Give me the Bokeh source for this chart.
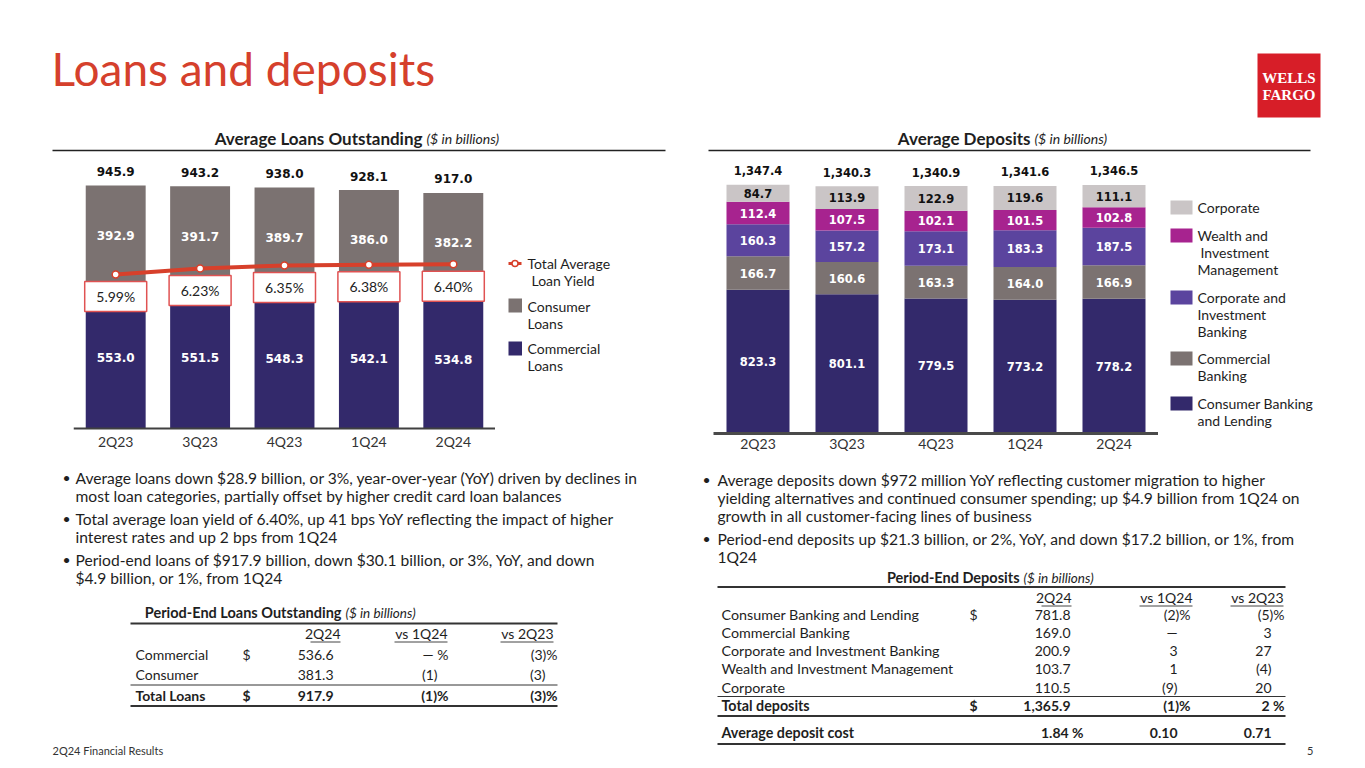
from bokeh.plotting import figure
from bokeh.models import Range1d, FactorRange, ColumnDataSource, Span
from bokeh.layouts import row, column
from bokeh.core.properties import value
from bokeh.transform import dodge
from bokeh.embed import file_html
from bokeh.resources import INLINE

# ---------------- data ----------------
quarters = ["2Q23", "3Q23", "4Q23", "1Q24", "2Q24"]

commercial_loans = [553.0, 551.5, 548.3, 542.1, 534.8]
consumer_loans = [392.9, 391.7, 389.7, 386.0, 382.2]
total_loans = [945.9, 943.2, 938.0, 928.1, 917.0]
loan_yield = [5.99, 6.23, 6.35, 6.38, 6.40]

dep_cbl = [823.3, 801.1, 779.5, 773.2, 778.2]
dep_cb = [166.7, 160.6, 163.3, 164.0, 166.9]
dep_cib = [160.3, 157.2, 173.1, 183.3, 187.5]
dep_wim = [112.4, 107.5, 102.1, 101.5, 102.8]
dep_corp = [84.7, 113.9, 122.9, 119.6, 111.1]
dep_total = [1347.4, 1340.3, 1340.9, 1341.6, 1346.5]

loan_tbl_rows = ["Commercial", "Consumer", "Total Loans"]
loan_tbl_2q24 = ["536.6", "381.3", "917.9"]
loan_tbl_vs1q24 = ["\u2014 %", "(1)", "(1)%"]
loan_tbl_vs2q23 = ["(3)%", "(3)", "(3)%"]

dep_tbl_rows = ["Consumer Banking and Lending", "Commercial Banking",
                "Corporate and Investment Banking", "Wealth and Investment Management",
                "Corporate", "Total deposits", "Average deposit cost"]
dep_tbl_2q24 = ["781.8", "169.0", "200.9", "103.7", "110.5", "1,365.9", "1.84 %"]
dep_tbl_vs1q24 = ["(2)%", "\u2014", "3", "1", "(9)", "(1)%", "0.10"]
dep_tbl_vs2q23 = ["(5)%", "3", "27", "(4)", "20", "2 %", "0.71"]

left_bullets = [
    ["Average loans down $28.9 billion, or 3%, year-over-year (YoY) driven by declines in",
     "most loan categories, partially offset by higher credit card loan balances"],
    ["Total average loan yield of 6.40%, up 41 bps YoY reflecting the impact of higher",
     "interest rates and up 2 bps from 1Q24"],
    ["Period-end loans of $917.9 billion, down $30.1 billion, or 3%, YoY, and down",
     "$4.9 billion, or 1%, from 1Q24"],
]
right_bullets = [
    ["Average deposits down $972 million YoY reflecting customer migration to higher",
     "yielding alternatives and continued consumer spending; up $4.9 billion from 1Q24 on",
     "growth in all customer-facing lines of business"],
    ["Period-end deposits up $21.3 billion, or 2%, YoY, and down $17.2 billion, or 1%, from",
     "1Q24"],
]

# ---------------- styles ----------------
NAVY = "#33296b"
GRAY = "#7b7271"
PURPLE = "#5b449e"
MAGENTA = "#a7238f"
LIGHT = "#cac5c6"
RED = "#d7402b"
BOXRED = "#e05252"
TXT = "#1e1e1e"
FONT = "Lato"
NUMFONT = "DejaVu Sans"

MID_TOP, MID_BOT, MID_H = 153, 433, 310     # chart frames span y 153..433 of the page


def canvas(w, h, x0, x1, y0, y1):
    p = figure(width=w, height=h, x_range=Range1d(x0, x1), y_range=Range1d(y1, y0),
               output_backend="svg", toolbar_location=None, min_border=0,
               x_axis_location=None, y_axis_location=None)
    p.grid.visible = False
    p.xgrid.visible = False
    p.ygrid.visible = False
    p.outline_line_color = None
    p.background_fill_color = "white"
    p.border_fill_color = "white"
    return p


def txt(p, x, y, s, size=14, style="normal", align="left", color=TXT, font=FONT):
    p.text(x=[x], y=[y], text=[s], text_font=value(font), text_font_size=f"{size}px",
           text_font_style=style, text_align=align, text_baseline="middle", text_color=color)


def hline(p, x0, x1, y, w=1.0, color="#333333"):
    p.segment(x0=[x0], x1=[x1], y0=[y], y1=[y], line_width=w, line_color=color)


# ---------------- header ----------------
hdr = canvas(1349, 153, 0, 1349, 0, 153)
txt(hdr, 51, 68, "Loans and deposits", size=46, color="#d5402c")
hdr.quad(left=[1257], right=[1320], top=[53], bottom=[117], fill_color="#d71e28", line_color=None)
txt(hdr, 1288.5, 77, "WELLS", size=15, style="bold", align="center", color="white", font="Liberation Serif")
txt(hdr, 1288.5, 94, "FARGO", size=15, style="bold", align="center", color="white", font="Liberation Serif")
txt(hdr, 422, 138, "Average Loans Outstanding", size=17, style="bold", align="right")
txt(hdr, 426, 138, "($ in billions)", size=14, style="italic", align="left")
hline(hdr, 52, 665, 150, 1.5, "#222222")
txt(hdr, 1030, 138, "Average Deposits", size=17, style="bold", align="right")
txt(hdr, 1034, 138, "($ in billions)", size=14, style="italic", align="left")
hline(hdr, 708, 1310, 150, 1.5, "#222222")

# ---------------- loans chart ----------------
lsrc = ColumnDataSource(dict(
    q=quarters, commercial=commercial_loans, consumer=consumer_loans, total=total_loans,
    yld=loan_yield,
    ylbl=[f"{v:.2f}%" for v in loan_yield],
    tlbl=[f"{v:.1f}" for v in total_loans],
    clbl=[f"{v:.1f}" for v in commercial_loans],
    slbl=[f"{v:.1f}" for v in consumer_loans],
    cmid=[c / 2 for c in commercial_loans],
    smid=[c + s / 2 for c, s in zip(commercial_loans, consumer_loans)],
))

LK = 3.8926           # $bn per pixel
YK = 1 / 25.1         # % per pixel
lp = figure(width=495, height=MID_H, x_range=FactorRange(factors=quarters, range_padding=0),
            y_range=Range1d(-5 * LK, 275 * LK), output_backend="svg", toolbar_location=None,
            min_border=0, min_border_left=73, min_border_bottom=MID_H - (MID_BOT - MID_TOP),
            y_axis_location=None)
lp.extra_y_ranges = {"yield": Range1d(5.99 - 159 * YK, 5.99 + 121 * YK)}
lp.outline_line_color = None
lp.grid.visible = False
lp.xaxis.axis_line_color = None
lp.xaxis.major_tick_line_color = None
lp.xaxis.major_label_text_font = FONT
lp.xaxis.major_label_text_font_size = "14px"
lp.xaxis.major_label_text_color = "#333333"
lp.xaxis.major_label_standoff = -7
lp.add_layout(Span(location=0, dimension="width", line_color="#404040", line_width=2))

lp.vbar_stack(["commercial", "consumer"], x="q", width=0.71, color=[NAVY, GRAY],
              line_color=None, source=lsrc)
lp.text(x="q", y="total", text="tlbl", source=lsrc, y_offset=-14, text_align="center",
        text_baseline="middle", text_font=value(NUMFONT), text_font_style="bold",
        text_font_size="12px", text_color="#111111")
lp.text(x="q", y="smid", text="slbl", source=lsrc, text_align="center", text_baseline="middle",
        text_font=value(NUMFONT), text_font_style="bold", text_font_size="12px", text_color="white")
lp.text(x="q", y="cmid", text="clbl", source=lsrc, text_align="center", text_baseline="middle",
        text_font=value(NUMFONT), text_font_style="bold", text_font_size="12px", text_color="white")
lp.line(x="q", y="yld", source=lsrc, y_range_name="yield", line_color=RED, line_width=4)
lp.scatter(x="q", y="yld", source=lsrc, y_range_name="yield", size=7, fill_color="white",
           line_color=RED, line_width=1.5)
boxy = dodge("yld", -22 * YK)
lp.rect(x="q", y=boxy, width=62, height=30, width_units="screen", height_units="screen",
        source=lsrc, y_range_name="yield", fill_color="white", line_color=BOXRED, line_width=1.5)
lp.text(x="q", y=boxy, text="ylbl", source=lsrc, y_range_name="yield", text_align="center",
        text_baseline="middle", text_font=value(FONT), text_font_size="14px", text_color="#222222")

# loans legend (frame aligned with chart frames: y 153..433)
ll = canvas(191, MID_H, 495, 686, MID_TOP, MID_BOT)
ll.min_border_bottom = MID_H - (MID_BOT - MID_TOP)
ll.segment(x0=[508], x1=[521], y0=[263], y1=[263], line_color=RED, line_width=3)
ll.scatter(x=[514.5], y=[263], size=6, fill_color="white", line_color=RED, line_width=1.5)
txt(ll, 527, 263, "Total Average")
txt(ll, 531, 280, "Loan Yield")
ll.quad(left=[508], right=[521.5], top=[298], bottom=[312], fill_color=GRAY, line_color=None)
txt(ll, 527, 306, "Consumer")
txt(ll, 527, 323, "Loans")
ll.quad(left=[508], right=[521.5], top=[341], bottom=[355], fill_color=NAVY, line_color=None)
txt(ll, 527, 348, "Commercial")
txt(ll, 527, 365, "Loans")

# ---------------- deposits chart ----------------
DY0 = 105.0
DK = (1347.4 - DY0) / (MID_BOT - 184.3)
segs = [dep_cbl, dep_cb, dep_cib, dep_wim, dep_corp]
seg_names = ["cbl", "cb", "cib", "wim", "corp"]
ddata = dict(q=quarters, total=dep_total, tlbl=[f"{v:,.1f}" for v in dep_total])
bottoms = [0.0] * len(quarters)
for name, vals in zip(seg_names, segs):
    ddata[name] = vals
    ddata[name + "_lbl"] = [f"{v:.1f}" for v in vals]
    ddata[name + "_mid"] = [(max(b, DY0) + b + v) / 2 for b, v in zip(bottoms, vals)]
    bottoms = [b + v for b, v in zip(bottoms, vals)]
dsrc = ColumnDataSource(ddata)

dp = figure(width=472, height=MID_H, x_range=FactorRange(factors=quarters, range_padding=0),
            y_range=Range1d(DY0, DY0 + (MID_BOT - MID_TOP) * DK), output_backend="svg",
            toolbar_location=None, min_border=0, min_border_left=27,
            min_border_bottom=MID_H - (MID_BOT - MID_TOP), y_axis_location=None)
dp.outline_line_color = None
dp.grid.visible = False
dp.xaxis.axis_line_color = "#4a4a4a"
dp.xaxis.axis_line_width = 3
dp.xaxis.major_tick_line_color = None
dp.xaxis.major_label_text_font = FONT
dp.xaxis.major_label_text_font_size = "14px"
dp.xaxis.major_label_text_color = "#333333"
dp.xaxis.major_label_standoff = -5

dp.vbar_stack(seg_names, x="q", width=0.708, color=[NAVY, GRAY, PURPLE, MAGENTA, LIGHT],
              line_color=None, source=dsrc)
for name in seg_names:
    dp.text(x="q", y=name + "_mid", text=name + "_lbl", source=dsrc, text_align="center",
            text_baseline="middle", text_font=value(NUMFONT), text_font_style="bold",
            text_font_size="11.5px", text_color="#111111" if name == "corp" else "white")
dp.text(x="q", y="total", text="tlbl", source=dsrc, y_offset=-14, text_align="center",
        text_baseline="middle", text_font=value(NUMFONT), text_font_style="bold",
        text_font_size="11.5px", text_color="#111111")

# deposits legend
dl = canvas(191, MID_H, 1158, 1349, MID_TOP, MID_BOT)
dl.min_border_bottom = MID_H - (MID_BOT - MID_TOP)
leg_items = [
    (LIGHT, ["Corporate"], 207, [0]),
    (MAGENTA, ["Wealth and", "Investment", "Management"], 235, [0, 3, 0]),
    (PURPLE, ["Corporate and", "Investment", "Banking"], 297, [0, 0, 0]),
    (GRAY, ["Commercial", "Banking"], 358, [0, 0]),
    (NAVY, ["Consumer Banking", "and Lending"], 403, [0, 0]),
]
for col, lines, y, ind in leg_items:
    dl.quad(left=[1170], right=[1192], top=[y - 7], bottom=[y + 7], fill_color=col, line_color=None)
    for i, (s, d) in enumerate(zip(lines, ind)):
        txt(dl, 1197 + d, y + 17 * i, s)

# ---------------- bottom: bullets + tables ----------------
BOT_TOP = MID_TOP + MID_H
bt = canvas(1349, 760 - BOT_TOP, 0, 1349, BOT_TOP, 760)

BSIZE = 15.6
y = 477
for b in left_bullets:
    txt(bt, 62, y, "\u2022", size=14)
    for ln in b:
        txt(bt, 75, y, ln, size=BSIZE)
        y += 18
    y += 5

y = 479
for b in right_bullets:
    txt(bt, 702, y, "\u2022", size=14)
    for ln in b:
        txt(bt, 717, y, ln, size=BSIZE)
        y += 18
    y += 5


def cell(p, xr, y, s, pct_w, style="normal", size=14):
    x = xr if s.endswith("%") else xr - pct_w
    txt(p, x, y, s, size=size, style=style, align="right")


# left table
txt(bt, 341, 612, "Period-End Loans Outstanding", size=14.5, style="bold", align="right")
txt(bt, 345, 612, "($ in billions)", size=13.5, style="italic")
hline(bt, 130, 557, 623, 2)
for s, xr, w in [("2Q24", 340, 30), ("vs 1Q24", 447, 53), ("vs 2Q23", 553, 53)]:
    txt(bt, xr, 633, s, size=14, align="right")
    hline(bt, xr - w, xr, 641.5, 1, "#444444")
row_y = [654, 674, 695]
for i, yy in enumerate(row_y):
    st = "bold" if i == 2 else "normal"
    txt(bt, 135, yy, loan_tbl_rows[i], size=14, style=st)
    if i != 1:
        txt(bt, 242, yy, "$", size=14, style=st)
    txt(bt, 333, yy, loan_tbl_2q24[i], size=14, style=st, align="right")
    cell(bt, 448, yy, loan_tbl_vs1q24[i], 11, st)
    cell(bt, 557, yy, loan_tbl_vs2q23[i], 12, st)
hline(bt, 130, 557, 684.5, 1)
hline(bt, 130, 557, 705.5, 2)

# right table
txt(bt, 1019, 577, "Period-End Deposits", size=14.5, style="bold", align="right")
txt(bt, 1023, 577, "($ in billions)", size=13.5, style="italic")
hline(bt, 717, 1285, 586.5, 2)
for s, xr, w in [("2Q24", 1071, 30), ("vs 1Q24", 1192, 53), ("vs 2Q23", 1283, 53)]:
    txt(bt, xr, 597, s, size=14, align="right")
    hline(bt, xr - w, xr, 605.5, 1, "#444444")
dep_y = [614, 632, 650, 668, 687, 705, 732]
for i, yy in enumerate(dep_y):
    st = "bold" if i >= 5 else "normal"
    txt(bt, 721, yy, dep_tbl_rows[i], size=14.3, style=st)
    if i in (0, 5):
        txt(bt, 969, yy, "$", size=14, style=st)
    cell(bt, 1083, yy, dep_tbl_2q24[i], 13, st)
    cell(bt, 1190, yy, dep_tbl_vs1q24[i], 13, st)
    cell(bt, 1284, yy, dep_tbl_vs2q23[i], 13, st)
hline(bt, 717, 1285, 696, 1)
hline(bt, 717, 1285, 715.5, 2)
hline(bt, 717, 1285, 743.5, 2)

# footer
txt(bt, 52, 750, "2Q24 Financial Results", size=11, color="#333333")
txt(bt, 1313, 750, "5", size=11, color="#333333", align="right")

layout = column(hdr, row(lp, ll, dp, dl), bt)
open("out.html", "w").write(file_html(layout, INLINE))
